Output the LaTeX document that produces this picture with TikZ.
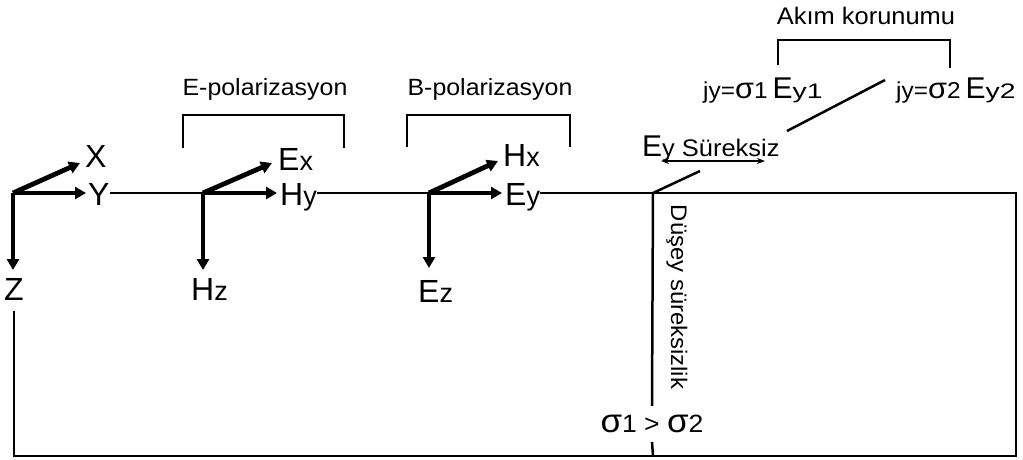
\documentclass[tikz,border=0pt]{standalone}
\usepackage{fontspec}
\setmainfont{Liberation Sans}
\newfontfamily\widefont[FakeStretch=1.06]{Liberation Sans}
\newfontfamily\widerfont[FakeStretch=1.35]{Liberation Sans}
\usetikzlibrary{arrows.meta}
\newcommand{\fs}[1]{\fontsize{#1}{#1}\selectfont}
\newcommand{\sub}[1]{{\fs{27}#1}}
\newcommand{\bigsig}[1]{{\fs{#1}σ}}

\begin{document}
\begin{tikzpicture}[x=1pt,y=-1pt,
    vec/.style={line width=4.8pt,-{Triangle[length=11pt,width=12pt]}},
    rim/.style={line width=2.5pt},
    big/.style={font=\fs{32},inner sep=0pt,anchor=base west},
    small/.style={font=\widefont\fs{23.5},inner sep=0pt,anchor=base}]
\useasboundingbox (0,0) rectangle (1023,459);

\coordinate (o0) at (13,193);
\coordinate (o1) at (203,193);
\coordinate (o2) at (429,193);

\coordinate (x0) at (80,163);
\coordinate (y0) at (86,193);
\coordinate (z0) at (13,270);
\coordinate (x1) at (272,163);
\coordinate (y1) at (277,193);
\coordinate (z1) at (203,270);
\coordinate (x2) at (498,161);
\coordinate (y2) at (502,193);
\coordinate (z2) at (429,268);

\node[big] (X) at (85,167) {X};
\node[big] (Y) at (88,205) {Y};
\node[big,anchor=base] (Z) at (14,300) {Z};
\node[big] (Ex) at (278,170) {E\sub{x}};
\node[big] (Hy) at (280,205) {H\sub{y}};
\node[big] (Hz) at (191,300) {H\sub{z}};
\node[big] (Hx) at (503,166) {H\sub{x}};
\node[big] (Ey) at (505,205) {E\sub{y}};
\node[big] (Ez) at (418,302) {E\sub{z}};

\draw[vec] (o0) -- (x0);
\draw[vec] (o0) -- (y0);
\draw[vec] (o0) -- (z0);
\draw[vec] (o1) -- (x1);
\draw[vec] (o1) -- (y1);
\draw[vec] (o1) -- (z1);
\draw[vec] (o2) -- (x2);
\draw[vec] (o2) -- (y2);
\draw[vec] (o2) -- (z2);

\coordinate (tr) at (1016,193);
\coordinate (br) at (1016,456);
\coordinate (bl) at (14,456);
\coordinate (zl) at (14,311);
\coordinate (kink) at (653,193);

\draw[rim] (Y.east |- o0) -- (o1);
\draw[rim] (Hy.east |- o0) -- (o2);
\draw[rim] (Ey.east |- o0) -- (tr) -- (br) -- (bl) -- (zl);

\node[small] (ep) at (265,95) {E-polarizasyon};
\node[small] (bp) at (490,95) {B-polarizasyon};
\node[small,font=\widefont\fs{24}] (ak) at (866,24) {Akım korunumu};
\draw[rim] (183,148) -- (183,115) -- (344,115) -- (344,148);
\draw[rim] (407,147) -- (407,115) -- (570,115) -- (570,147);
\draw[rim] (778,65) -- (778,40) -- (950,40) -- (950,68);

\node[small,anchor=base west] (j1) at (703,98)
  {\widefont\fs{23}jy=\bigsig{29}1\hspace{5pt}\normalfont\fs{30}E\widerfont\fs{21}y1};
\node[small,anchor=base west] (j2) at (896,98)
  {\widefont\fs{23}jy=\bigsig{29}2\hspace{5pt}\normalfont\fs{30}E\widerfont\fs{21}y2};

\node[small,anchor=base west] (es) at (642,156)
  {\normalfont\fs{30}E\widefont\fs{24}y Süreksiz};
\coordinate (da) at (661,161);
\coordinate (db) at (765,161);
\draw[line width=1.5pt,{Stealth[length=8pt,width=6pt]}-{Stealth[length=8pt,width=6pt]}] (da) -- (db);

\coordinate (s1) at (700,171);
\coordinate (s2) at (787,131);
\coordinate (s3) at (885,80);
\draw[rim] (kink) -- (s1);
\draw[rim] (s2) -- (s3);

\node[small,font=\widefont\fs{22.5},rotate=-90,anchor=center] (ds) at (677,297) {Düşey süreksizlik};
\node[font=\widefont\fs{25},inner xsep=1pt,inner ysep=9pt] (sg) at (652,424)
  {\bigsig{33}1 > \bigsig{33}2};
\draw[rim] (kink) -- (sg.north);
\draw[rim] (sg.south) -- (kink |- br);
\end{tikzpicture}
\end{document}
